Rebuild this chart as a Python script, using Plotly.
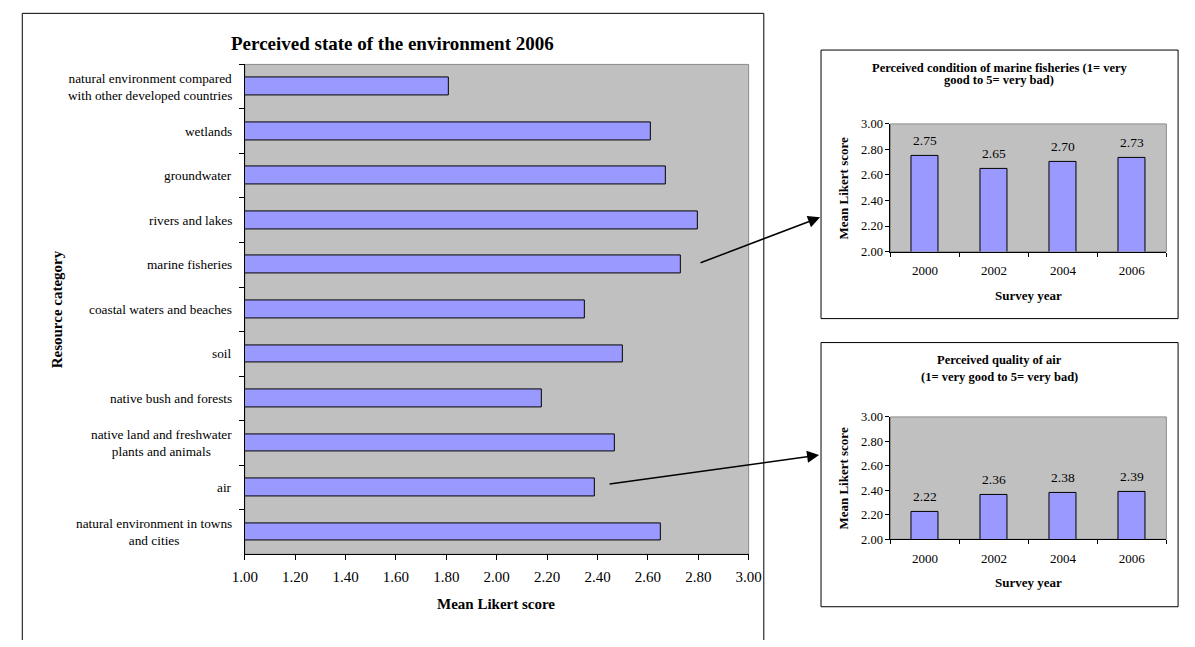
import plotly.graph_objects as go

W, H = 1195, 647
FONT = "Liberation Serif"


def px(x):
    return x / W


def py(y):
    return 1 - y / H


# ---------------- data ----------------
categories = [
    "natural environment compared<br>with other developed countries",
    "wetlands",
    "groundwater",
    "rivers and lakes",
    "marine fisheries",
    "coastal waters and beaches",
    "soil",
    "native bush and forests",
    "native land and freshwater<br>plants and animals",
    "air",
    "natural environment in towns<br>and cities",
]
scores_2006 = [1.81, 2.61, 2.67, 2.80, 2.73, 2.35, 2.50, 2.18, 2.47, 2.39, 2.65]

survey_years = ["2000", "2002", "2004", "2006"]
fisheries_scores = [2.75, 2.65, 2.70, 2.73]
air_scores = [2.22, 2.36, 2.38, 2.39]

main_title = "Perceived state of the environment 2006"
fish_title = ["Perceived condition of marine fisheries (1= very", "good to 5= very bad)"]
air_title = ["Perceived quality of air", "(1= very good to 5= very bad)"]

BAR_FILL = "#9999FF"
PLOT_BG = "#C0C0C0"

fig = go.Figure()

fig.add_trace(go.Bar(
    x=scores_2006, y=categories, orientation="h", width=0.4,
    marker=dict(color=BAR_FILL, line=dict(color="black", width=1)),
    xaxis="x", yaxis="y", hoverinfo="x+y",
))
fig.add_trace(go.Bar(
    x=survey_years, y=fisheries_scores, width=0.4,
    marker=dict(color=BAR_FILL, line=dict(color="black", width=1)),
    xaxis="x2", yaxis="y2",
))
fig.add_trace(go.Bar(
    x=survey_years, y=air_scores, width=0.4,
    marker=dict(color=BAR_FILL, line=dict(color="black", width=1)),
    xaxis="x3", yaxis="y3",
))

common_axis = dict(showline=True, linecolor="black", linewidth=1, showgrid=False,
                   zeroline=False, ticks="outside", tickcolor="black", tickwidth=1,
                   fixedrange=True)

fig.update_layout(
    width=W, height=H, autosize=False,
    margin=dict(l=0, r=0, t=0, b=0, pad=0),
    paper_bgcolor="white", plot_bgcolor=PLOT_BG,
    showlegend=False, bargap=0,
    font=dict(family=FONT, color="black", size=13),
    xaxis=dict(domain=[px(237), px(752)], anchor="y", range=[1, 3], tick0=1, dtick=0.2,
               tickformat=".2f", ticklen=5, tickfont=dict(size=15), ticklabelstandoff=4,
               **common_axis),
    yaxis=dict(domain=[py(559.3), py(58.7)], anchor="x", type="category",
               categoryorder="array", categoryarray=categories, autorange="reversed",
               tickson="boundaries", ticklen=5, showticklabels=False, **common_axis),
    xaxis2=dict(domain=[px(897), px(1179)], anchor="y2", type="category",
                categoryorder="array", categoryarray=survey_years,
                range=[-0.5, len(survey_years) - 0.5], tickangle=0,
                tickson="boundaries", ticklen=4, tickfont=dict(size=13),
                ticklabelstandoff=7, **common_axis),
    yaxis2=dict(domain=[py(250), py(119.5)], anchor="x2", range=[2, 3], tick0=2, dtick=0.2,
                tickformat=".2f", ticklen=4, tickfont=dict(size=12.5), **common_axis),
    xaxis3=dict(domain=[px(897), px(1179)], anchor="y3", type="category",
                categoryorder="array", categoryarray=survey_years,
                range=[-0.5, len(survey_years) - 0.5], tickangle=0,
                tickson="boundaries", ticklen=4, tickfont=dict(size=13),
                ticklabelstandoff=7, **common_axis),
    yaxis3=dict(domain=[py(544), py(419)], anchor="x3", range=[2, 3], tick0=2, dtick=0.2,
                tickformat=".2f", ticklen=4, tickfont=dict(size=12.5), **common_axis),
)

shapes = []
# grey plot-area borders
for xr, yr in [("x", "y"), ("x2", "y2"), ("x3", "y3")]:
    shapes.append(dict(type="rect", xref=f"{xr} domain", yref=f"{yr} domain",
                       x0=0, x1=1, y0=0, y1=1, layer="below",
                       line=dict(color="#8C8C8C", width=1)))
# main chart frame (open at the bottom edge of the picture)
frame_line = dict(color="black", width=1)
shapes.append(dict(type="line", xref="paper", yref="paper",
                   x0=px(9.5), x1=px(9.5), y0=0, y1=py(6.5), line=frame_line))
shapes.append(dict(type="line", xref="paper", yref="paper",
                   x0=px(767.5), x1=px(767.5), y0=0, y1=py(6.5), line=frame_line))
shapes.append(dict(type="line", xref="paper", yref="paper",
                   x0=px(9.5), x1=px(767.5), y0=py(6.5), y1=py(6.5), line=frame_line))
# inset frames
shapes.append(dict(type="rect", xref="paper", yref="paper",
                   x0=px(826), x1=px(1191), y0=py(318.5), y1=py(44), line=frame_line))
shapes.append(dict(type="rect", xref="paper", yref="paper",
                   x0=px(826), x1=px(1191), y0=py(613), y1=py(343), line=frame_line))
fig.update_layout(shapes=shapes)

ann = []


def label(text, x, y, size, bold=False, angle=0, xanchor="center", align="center",
          xref="paper", yref="paper"):
    ann.append(dict(text=f"<b>{text}</b>" if bold else text, x=x, y=y, xref=xref,
                    yref=yref, showarrow=False, font=dict(size=size), textangle=angle,
                    xanchor=xanchor, yanchor="middle", align=align))


# main title
label(main_title, px(388), py(37), 19, bold=True)
# category labels (centred multi-line)
for c in categories:
    label(c, px(226), c, 13.3, xanchor="right", yref="y")
# main axis titles
label("Mean Likert score", px(494), py(610), 15, bold=True)
label("Resource category", px(45), py(309), 15, bold=True, angle=-90)
# inset titles
for i, line in enumerate(fish_title):
    label(line, px(1008), py(62 + 12.8 * i), 12.5, bold=True)
for i, line in enumerate(air_title):
    label(line, px(1008), py(361 + 17 * i), 12.5, bold=True)
# inset axis titles
for ycen, ycen_t in [(185, 295), (481.5, 588)]:
    label("Mean Likert score", px(849), py(ycen), 13, bold=True, angle=-90)
    label("Survey year", px(1038), py(ycen_t), 13, bold=True)
# data labels (category axis: position by category index)
for xr, yr, vals in [("x2", "y2", fisheries_scores), ("x3", "y3", air_scores)]:
    for idx, v in enumerate(vals):
        ann.append(dict(text=f"{v:.2f}", x=idx, y=v, xref=xr, yref=yr, showarrow=False,
                        xanchor="center", yanchor="bottom", yshift=6,
                        font=dict(size=13.5)))
# arrows
ann.append(dict(text="", x=px(825), y=py(215), xref="paper", yref="paper", showarrow=True,
                ax=-121, ay=46, arrowhead=2, arrowsize=1.6, arrowwidth=1.5,
                arrowcolor="black", standoff=0, startstandoff=0))
ann.append(dict(text="", x=px(824), y=py(458), xref="paper", yref="paper", showarrow=True,
                ax=-211, ay=29, arrowhead=2, arrowsize=1.6, arrowwidth=1.5,
                arrowcolor="black", standoff=0, startstandoff=0))
fig.update_layout(annotations=ann)

fig.write_html("out.html", config={"displayModeBar": False},
               post_script="document.body.style.margin='0';document.body.style.overflow='hidden';")
